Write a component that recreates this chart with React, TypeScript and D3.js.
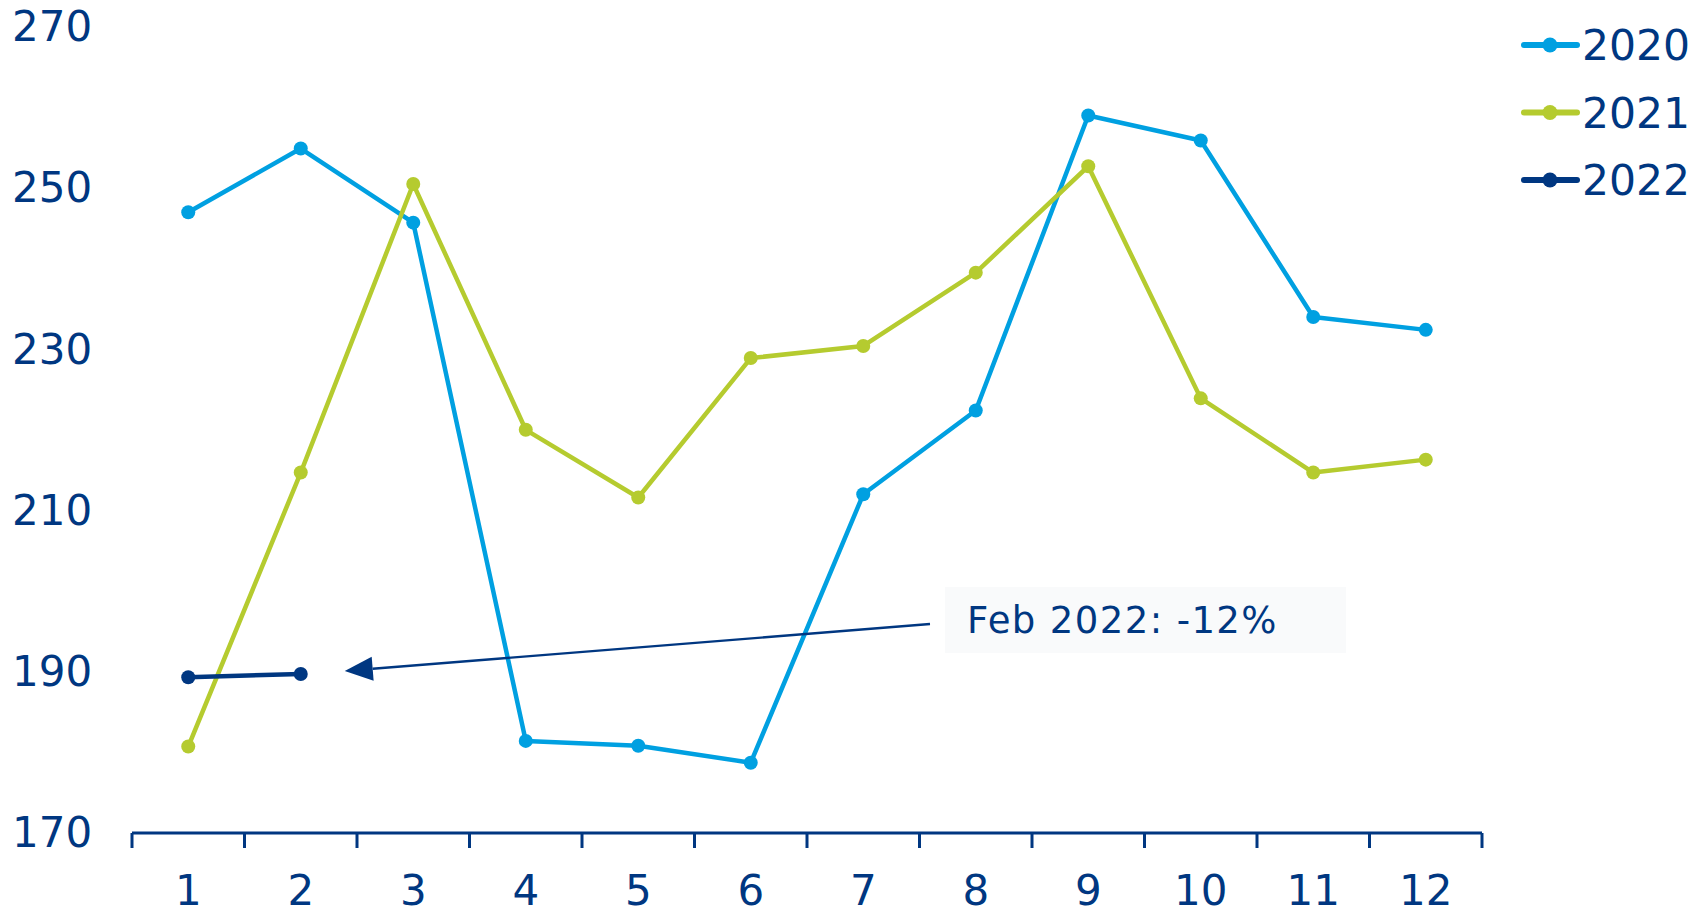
import React from 'react';
import { scaleBand, scaleLinear, line } from 'd3';

const months = [1, 2, 3, 4, 5, 6, 7, 8, 9, 10, 11, 12];
const yTicks = [170, 190, 210, 230, 250, 270];
const values2020 = [246.9, 254.8, 245.6, 181.3, 180.7, 178.6, 211.9, 222.3, 258.9, 255.8, 233.9, 232.3];
const values2021 = [180.6, 214.6, 250.4, 219.9, 211.5, 228.8, 230.3, 239.4, 252.6, 223.8, 214.6, 216.2];
const values2022 = [189.2, 189.6];
const seriesNames = ['2020', '2021', '2022'];
const seriesColors = ['#00a0e1', '#b5cb2f', '#003781'];
const annotationText = 'Feb 2022: -12%';

const navy = '#003781';
const font = '"DejaVu Sans", Verdana, sans-serif';

const App = () => {
  const width = 1707;
  const height = 913;

  const xScale = scaleBand<number>()
    .domain(months)
    .range([132, 1482])
    .paddingInner(0)
    .paddingOuter(0);

  const yScale = scaleLinear()
    .domain([170, 270])
    .range([832, 26]);

  const cx = (m: number) => (xScale(m) as number) + xScale.bandwidth() / 2;

  const series = [values2020, values2021, values2022];

  const lineGen = line<number>()
    .x((d, i) => cx(months[i]))
    .y(d => yScale(d));

  const axisY = 833;
  const tickXs = [...months.map(m => xScale(m) as number), 1482];

  // annotation arrow: points at the Feb 2022 value
  const tipX = cx(2) + 44;
  const tipY = yScale(values2022[1]) - 3;
  const startX = 930;
  const startY = 624;
  const ang = Math.atan2(startY - tipY, startX - tipX);
  const headLen = 28;
  const headHalf = 12;
  const bx = tipX + Math.cos(ang) * headLen;
  const by = tipY + Math.sin(ang) * headLen;
  const px = -Math.sin(ang) * headHalf;
  const py = Math.cos(ang) * headHalf;
  const head = `${tipX},${tipY} ${bx + px},${by + py} ${bx - px},${by - py}`;

  return (
    <svg
      width={width}
      height={height}
      style={{ position: 'absolute', left: 0, top: 0, background: '#fff' }}
      fontFamily={font}
    >
      {/* y labels */}
      {yTicks.map(t => (
        <text key={t} x={12} y={yScale(t)} dy="0.36em" fontSize={42} fill={navy}>
          {t}
        </text>
      ))}

      {/* x axis */}
      <line x1={132} x2={1482} y1={axisY} y2={axisY} stroke={navy} strokeWidth={3} />
      {tickXs.map((x, i) => (
        <line key={i} x1={x} x2={x} y1={axisY} y2={848} stroke={navy} strokeWidth={3} />
      ))}
      {months.map(m => (
        <text key={m} x={cx(m)} y={905} textAnchor="middle" fontSize={42} fill={navy}>
          {m}
        </text>
      ))}

      {/* series */}
      {series.map((vals, si) => (
        <g key={si}>
          <path d={lineGen(vals) || ''} fill="none" stroke={seriesColors[si]} strokeWidth={4.5} strokeLinejoin="round" />
          {vals.map((v, i) => (
            <circle key={i} cx={cx(months[i])} cy={yScale(v)} r={7} fill={seriesColors[si]} />
          ))}
        </g>
      ))}

      {/* annotation */}
      <rect x={945} y={587} width={401} height={66} fill="#f9fafb" />
      <text x={967} y={633} fontSize={37} letterSpacing={1.4} fill={navy}>{annotationText}</text>
      <line x1={startX} y1={startY} x2={bx} y2={by} stroke={navy} strokeWidth={2.4} />
      <polygon points={head} fill={navy} />

      {/* legend */}
      {seriesNames.map((name, i) => {
        const ly = 45 + i * 67.5;
        return (
          <g key={name}>
            <line x1={1524} x2={1577} y1={ly} y2={ly} stroke={seriesColors[i]} strokeWidth={6} strokeLinecap="round" />
            <circle cx={1550} cy={ly} r={7.5} fill={seriesColors[i]} />
            <text x={1582} y={ly} dy="0.36em" fontSize={42.5} fill={navy}>{name}</text>
          </g>
        );
      })}
    </svg>
  );
};

export default App;
